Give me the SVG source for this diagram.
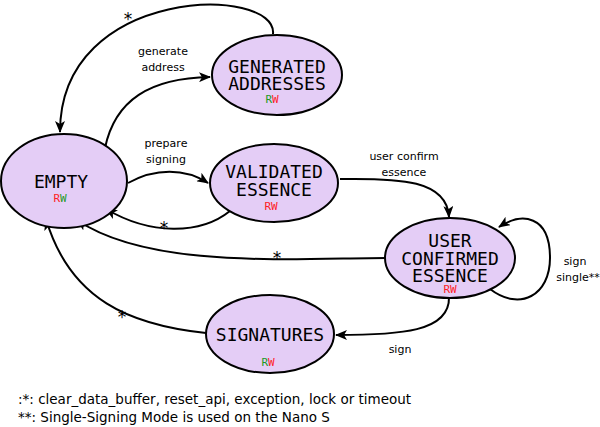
<svg xmlns="http://www.w3.org/2000/svg" width="600" height="427" viewBox="0 0 600 427">
<style>
.node ellipse{fill:#e4cdf6;stroke:#000;stroke-width:2}
.nt{font-family:"DejaVu Sans Mono",monospace;font-size:18px;text-anchor:middle;fill:#000}
.rw{font-family:"DejaVu Sans Mono",monospace;font-size:11px;text-anchor:middle}
.r{fill:#ff1c24}.g{fill:#1c9a24}
.edge path{fill:none;stroke:#000;stroke-width:2;marker-end:url(#ah)}
.lbl{font-family:"DejaVu Sans",sans-serif;font-size:11px;text-anchor:middle;fill:#000}
.star{font-family:"DejaVu Sans",sans-serif;font-size:17px;text-anchor:middle;fill:#000}
.foot{font-family:"DejaVu Sans",sans-serif;font-size:13.5px;fill:#000}
</style>
<defs>
<marker id="ah" viewBox="0 0 12 10" refX="11" refY="5" markerWidth="12" markerHeight="10" markerUnits="userSpaceOnUse" orient="auto">
<path d="M0,0 L12,5 L0,10 L3,5 z" fill="#000"/>
</marker>
</defs>
<g id="connectors" class="edge">
<path d="M273,34 C278,-15 60,-15 60,132"/>
<path d="M105,148 C115,100 150,78 210,77"/>
<path d="M128,183 C155,168 185,168 208,183"/>
<path d="M230,211 C200,235 150,235 106,209"/>
<path d="M340,179 C400,178 447,180 449,217"/>
<path d="M386,258 C300,258 150,270 77,220"/>
<path d="M490,289 C520,312 550,295 550,258 C550,215 522,212 499,227"/>
<path d="M449,297 C450,332 400,335 336,335"/>
<path d="M206,333 C130,325 70,300 46,219"/>
</g>
<g id="edge-labels">
<text class="star" x="128" y="25">*</text>
<text class="lbl" x="163" y="55">generate</text>
<text class="lbl" x="163" y="71">address</text>
<text class="lbl" x="166" y="147">prepare</text>
<text class="lbl" x="166" y="163">signing</text>
<text class="star" x="164" y="234">*</text>
<text class="lbl" x="404" y="160">user confirm</text>
<text class="lbl" x="404" y="176">essence</text>
<text class="star" x="277" y="264">*</text>
<text class="lbl" x="575" y="265">sign</text>
<text class="lbl" x="578" y="281">single**</text>
<text class="lbl" x="400" y="353">sign</text>
<text class="star" x="122" y="323">*</text>
</g>
<g id="EMPTY" class="node">
<ellipse cx="64" cy="181" rx="63" ry="47"/>
<text class="nt" x="61" y="188">EMPTY</text>
<text class="rw" x="60" y="202"><tspan class="r">R</tspan><tspan class="g">W</tspan></text>
</g>
<g id="GENERATED_ADDRESSES" class="node">
<ellipse cx="277" cy="75" rx="65" ry="40"/>
<text class="nt" x="277" y="73">GENERATED</text>
<text class="nt" x="277" y="90">ADDRESSES</text>
<text class="rw" x="272" y="103"><tspan class="g">R</tspan><tspan class="r">W</tspan></text>
</g>
<g id="VALIDATED_ESSENCE" class="node">
<ellipse cx="274" cy="183" rx="64" ry="39"/>
<text class="nt" x="274" y="178">VALIDATED</text>
<text class="nt" x="274" y="196">ESSENCE</text>
<text class="rw" x="271" y="210"><tspan class="r">RW</tspan></text>
</g>
<g id="USER_CONFIRMED_ESSENCE" class="node">
<ellipse cx="450" cy="258" rx="65" ry="40"/>
<text class="nt" x="450" y="247">USER</text>
<text class="nt" x="450" y="265">CONFIRMED</text>
<text class="nt" x="450" y="282">ESSENCE</text>
<text class="rw" x="450" y="293"><tspan class="r">RW</tspan></text>
</g>
<g id="SIGNATURES" class="node">
<ellipse cx="270" cy="334" rx="64" ry="39"/>
<text class="nt" x="270" y="341">SIGNATURES</text>
<text class="rw" x="268" y="366"><tspan class="g">R</tspan><tspan class="r">W</tspan></text>
</g>
<g id="footnotes">
<text class="foot" x="18" y="404">:*: clear_data_buffer, reset_api, exception, lock or timeout</text>
<text class="foot" x="18" y="422">**: Single-Signing Mode is used on the Nano S</text>
</g>
</svg>
